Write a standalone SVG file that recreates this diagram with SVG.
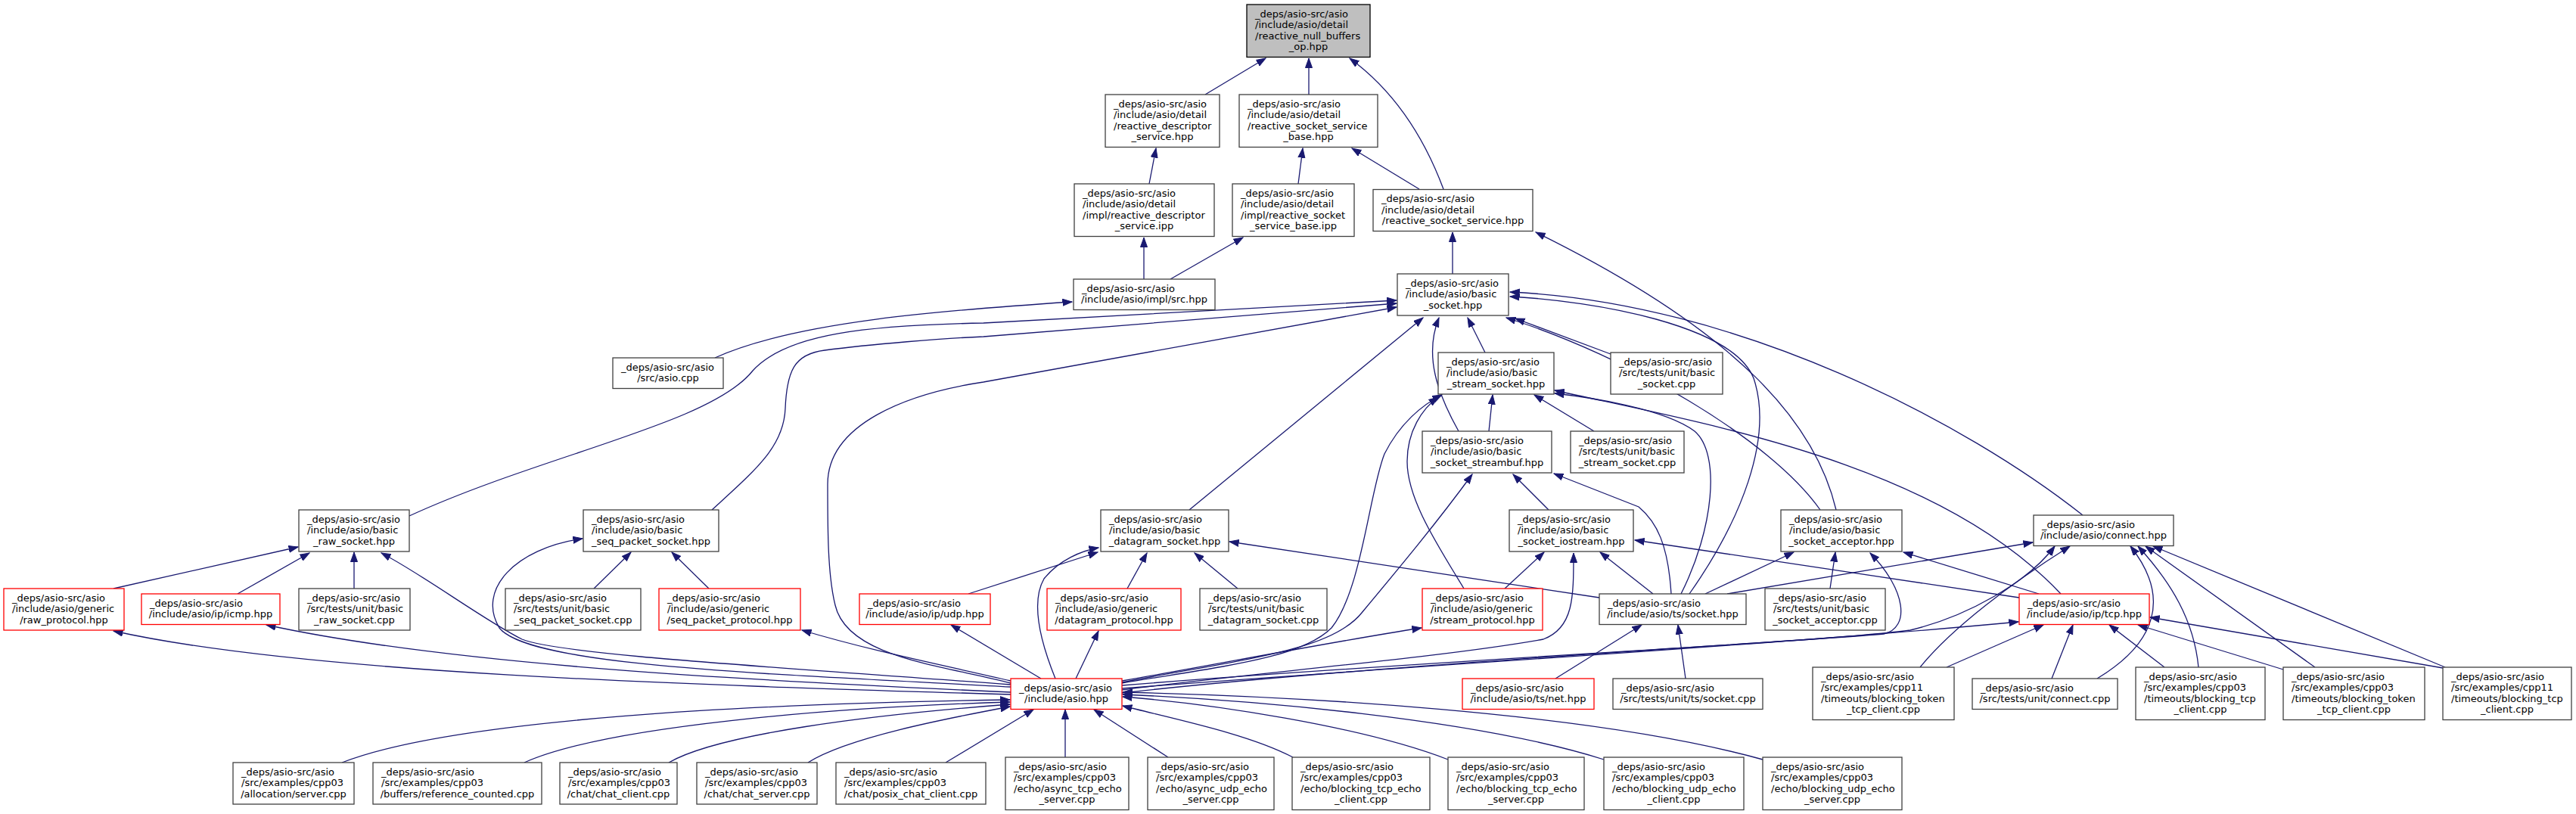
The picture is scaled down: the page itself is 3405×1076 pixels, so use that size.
<svg xmlns="http://www.w3.org/2000/svg" width="3405" height="1076" viewBox="0 0 3405 1076">
<style>
.node rect{fill:#fff;stroke:#404040;stroke-width:1.3}
.node.g rect{fill:#bfbfbf;stroke:#000}
.node.r rect{stroke:#f00}
.node text{font-family:"DejaVu Sans","Liberation Sans",sans-serif;font-size:13px;fill:#000}
.node text.c{text-anchor:middle}
.edges path{fill:none;stroke:#191970;stroke-width:1.3;marker-end:url(#ah)}
</style>
<defs>
<marker id="ah" markerUnits="userSpaceOnUse" markerWidth="14" markerHeight="11" refX="12.5" refY="5" orient="auto">
<path d="M0,0.5 L12.5,5 L0,9.5 z" fill="#191970" stroke="#191970" stroke-width="1"/>
</marker>
</defs>
<rect width="3405" height="1076" fill="#fff"/>
<g class="edges">
<path d="M1593,125 L1673,77"/>
<path d="M1730,125 L1730,77"/>
<path d="M1908,250 C1880,175 1840,118 1784,77"/>
<path d="M1519,243 L1528,196"/>
<path d="M1716,243 L1722,196"/>
<path d="M1876,250 L1787,196"/>
<path d="M1512,369 L1512,314"/>
<path d="M1547,369 L1643,314"/>
<path d="M1920,362 L1920,307"/>
<path d="M2427,674 C2400,560 2300,440 2030,307"/>
<path d="M945,473 C1050,425 1250,410 1417,399"/>
<path d="M541,682 C720,600 940,560 995,490 C1040,440 1150,430 1300,427 L1846,397"/>
<path d="M941,674 C1000,620 1036,590 1038,540 C1040,490 1050,468 1090,463 C1150,455 1250,447 1300,445 L1846,401"/>
<path d="M1336,903 C1250,880 1120,870 1104,800 C1094,760 1094,700 1094,640 C1094,560 1200,520 1300,505 L1846,406"/>
<path d="M1572,674 L1881,420"/>
<path d="M1928,570 C1900,520 1882,470 1902,420"/>
<path d="M1963,466 L1940,420"/>
<path d="M2406,674 C2340,580 2150,470 1991,420"/>
<path d="M2233,785 C2300,690 2345,580 2318,500 C2290,430 2110,398 1996,392"/>
<path d="M2129,468 L2003,421"/>
<path d="M2753,681 C2600,560 2300,400 1996,386"/>
<path d="M2107,570 L2028,522"/>
<path d="M1968,570 L1973,522"/>
<path d="M1483,903 C1620,880 1720,870 1760,830 C1800,780 1810,650 1830,600 C1850,560 1880,535 1906,522"/>
<path d="M1935,778 C1900,720 1860,660 1860,610 C1860,570 1880,540 1901,525"/>
<path d="M2047,674 L2000,627"/>
<path d="M1483,912 C1650,890 1900,870 2040,845 C2080,830 2080,790 2080,731"/>
<path d="M1989,778 L2041,730"/>
<path d="M2185,785 L2115,730"/>
<path d="M2669,790 L2161,714"/>
<path d="M2209,785 C2205,720 2190,690 2166,670 L2054,626"/>
<path d="M2254,785 L2371,730"/>
<path d="M2419,778 L2426,730"/>
<path d="M1483,916 C1800,880 2350,850 2490,838 C2525,830 2520,780 2472,731"/>
<path d="M2695,785 L2516,730"/>
<path d="M2283,785 L2687,717"/>
<path d="M2114,790 L1625,716"/>
<path d="M2056,897 L2170,826"/>
<path d="M2228,897 L2218,826"/>
<path d="M1483,906 C1900,872 2400,850 2525,833 C2600,815 2680,770 2716,722"/>
<path d="M1483,910 C1900,878 2350,852 2668,822"/>
<path d="M2538,882 C2580,830 2660,770 2736,722"/>
<path d="M2772,897 C2850,850 2870,790 2816,722"/>
<path d="M2906,882 C2900,820 2870,770 2826,722"/>
<path d="M3060,882 L2836,722"/>
<path d="M3232,882 L2846,722"/>
<path d="M2573,882 L2701,826"/>
<path d="M2712,897 L2740,826"/>
<path d="M2861,882 L2788,826"/>
<path d="M3018,885 L2826,826"/>
<path d="M3229,883 L2842,816"/>
<path d="M2724,785 C2560,610 2250,560 2055,516"/>
<path d="M2222,785 C2265,700 2275,600 2240,570 C2200,540 2100,525 2055,520"/>
<path d="M1280,785 L1451,730"/>
<path d="M1395,897 C1380,860 1360,800 1380,765 C1400,740 1430,728 1452,724"/>
<path d="M1490,778 L1516,731"/>
<path d="M1636,778 L1579,731"/>
<path d="M1422,897 L1452,834"/>
<path d="M1376,897 L1257,826"/>
<path d="M1336,905 C1000,880 740,865 690,845 C640,820 560,760 504,731"/>
<path d="M1336,908 C1000,890 700,880 660,830 C630,780 680,725 770,712"/>
<path d="M1336,900 C1250,880 1150,860 1060,833"/>
<path d="M1336,915 C1000,900 600,880 352,826"/>
<path d="M1336,918 C900,905 400,890 150,834"/>
<path d="M150,778 L394,723"/>
<path d="M314,785 L409,731"/>
<path d="M468,778 L468,730"/>
<path d="M785,778 L834,730"/>
<path d="M937,778 L888,730"/>
<path d="M1483,900 C1600,880 1750,850 1879,830"/>
<path d="M1483,902 C1650,870 1760,860 1800,810 C1850,750 1900,690 1946,627"/>
<path d="M452,1008 C600,950 1000,930 1335,925"/>
<path d="M693,1008 C800,960 1100,935 1335,928"/>
<path d="M884,1008 C950,970 1150,945 1335,931"/>
<path d="M1068,1008 C1120,975 1250,950 1335,934"/>
<path d="M1250,1008 L1366,938"/>
<path d="M1408,1001 L1408,938"/>
<path d="M1544,1001 L1446,938"/>
<path d="M1709,1001 C1650,970 1550,950 1484,933"/>
<path d="M1914,1004 C1800,960 1600,930 1484,921"/>
<path d="M2120,1004 C1950,950 1650,925 1484,918"/>
<path d="M2330,1004 C2100,940 1700,920 1484,915"/>
</g>
<g id="n-root" class="node g"><rect x="1648" y="6" width="163" height="69.5"/><text x="1659" y="22.8">_deps/asio-src/asio</text><text x="1659" y="37.3">/include/asio/detail</text><text x="1659" y="51.8">/reactive_null_buffers</text><text class="c" x="1729.5" y="66.3">_op.hpp</text></g>
<g id="n-rds" class="node"><rect x="1461" y="125" width="151" height="69.5"/><text x="1472" y="141.8">_deps/asio-src/asio</text><text x="1472" y="156.3">/include/asio/detail</text><text x="1472" y="170.8">/reactive_descriptor</text><text class="c" x="1536.5" y="185.3">_service.hpp</text></g>
<g id="n-rssb" class="node"><rect x="1638" y="125" width="183" height="69.5"/><text x="1649" y="141.8">_deps/asio-src/asio</text><text x="1649" y="156.3">/include/asio/detail</text><text x="1649" y="170.8">/reactive_socket_service</text><text class="c" x="1729.5" y="185.3">_base.hpp</text></g>
<g id="n-rds-ipp" class="node"><rect x="1420" y="243" width="185" height="69.5"/><text x="1431" y="259.8">_deps/asio-src/asio</text><text x="1431" y="274.3">/include/asio/detail</text><text x="1431" y="288.8">/impl/reactive_descriptor</text><text class="c" x="1512.5" y="303.3">_service.ipp</text></g>
<g id="n-rssb-ipp" class="node"><rect x="1629" y="243" width="161" height="69.5"/><text x="1640" y="259.8">_deps/asio-src/asio</text><text x="1640" y="274.3">/include/asio/detail</text><text x="1640" y="288.8">/impl/reactive_socket</text><text class="c" x="1709.5" y="303.3">_service_base.ipp</text></g>
<g id="n-rss" class="node"><rect x="1815" y="250.5" width="211" height="55"/><text x="1826" y="267.3">_deps/asio-src/asio</text><text x="1826" y="281.8">/include/asio/detail</text><text class="c" x="1920.5" y="296.3">/reactive_socket_service.hpp</text></g>
<g id="n-src" class="node"><rect x="1419" y="369" width="187" height="40.5"/><text x="1430" y="385.8">_deps/asio-src/asio</text><text class="c" x="1512.5" y="400.3">/include/asio/impl/src.hpp</text></g>
<g id="n-bs" class="node"><rect x="1847" y="362" width="147" height="55"/><text x="1858" y="378.8">_deps/asio-src/asio</text><text x="1858" y="393.3">/include/asio/basic</text><text class="c" x="1920.5" y="407.8">_socket.hpp</text></g>
<g id="n-asiocpp" class="node"><rect x="810" y="473" width="146" height="40.5"/><text x="821" y="489.8">_deps/asio-src/asio</text><text class="c" x="883" y="504.3">/src/asio.cpp</text></g>
<g id="n-bss" class="node"><rect x="1901" y="466" width="153" height="55"/><text x="1912" y="482.8">_deps/asio-src/asio</text><text x="1912" y="497.3">/include/asio/basic</text><text class="c" x="1977.5" y="511.8">_stream_socket.hpp</text></g>
<g id="n-tbs" class="node"><rect x="2129" y="466" width="148" height="55"/><text x="2140" y="482.8">_deps/asio-src/asio</text><text x="2140" y="497.3">/src/tests/unit/basic</text><text class="c" x="2203" y="511.8">_socket.cpp</text></g>
<g id="n-sb" class="node"><rect x="1880" y="570" width="171" height="55"/><text x="1891" y="586.8">_deps/asio-src/asio</text><text x="1891" y="601.3">/include/asio/basic</text><text class="c" x="1965.5" y="615.8">_socket_streambuf.hpp</text></g>
<g id="n-tbss" class="node"><rect x="2076" y="570" width="150" height="55"/><text x="2087" y="586.8">_deps/asio-src/asio</text><text x="2087" y="601.3">/src/tests/unit/basic</text><text class="c" x="2151" y="615.8">_stream_socket.cpp</text></g>
<g id="n-raw" class="node"><rect x="395" y="674" width="146" height="55"/><text x="406" y="690.8">_deps/asio-src/asio</text><text x="406" y="705.3">/include/asio/basic</text><text class="c" x="468" y="719.8">_raw_socket.hpp</text></g>
<g id="n-seq" class="node"><rect x="771" y="674" width="179" height="55"/><text x="782" y="690.8">_deps/asio-src/asio</text><text x="782" y="705.3">/include/asio/basic</text><text class="c" x="860.5" y="719.8">_seq_packet_socket.hpp</text></g>
<g id="n-dg" class="node"><rect x="1455" y="674" width="169" height="55"/><text x="1466" y="690.8">_deps/asio-src/asio</text><text x="1466" y="705.3">/include/asio/basic</text><text class="c" x="1539.5" y="719.8">_datagram_socket.hpp</text></g>
<g id="n-io" class="node"><rect x="1995" y="674" width="164" height="55"/><text x="2006" y="690.8">_deps/asio-src/asio</text><text x="2006" y="705.3">/include/asio/basic</text><text class="c" x="2077" y="719.8">_socket_iostream.hpp</text></g>
<g id="n-ac" class="node"><rect x="2354" y="674" width="160" height="55"/><text x="2365" y="690.8">_deps/asio-src/asio</text><text x="2365" y="705.3">/include/asio/basic</text><text class="c" x="2434" y="719.8">_socket_acceptor.hpp</text></g>
<g id="n-cn" class="node"><rect x="2688" y="681" width="185" height="40.5"/><text x="2699" y="697.8">_deps/asio-src/asio</text><text class="c" x="2780.5" y="712.3">/include/asio/connect.hpp</text></g>
<g id="n-rawp" class="node r"><rect x="5" y="778" width="159" height="55"/><text x="16" y="794.8">_deps/asio-src/asio</text><text x="16" y="809.3">/include/asio/generic</text><text class="c" x="84.5" y="823.8">/raw_protocol.hpp</text></g>
<g id="n-icmp" class="node r"><rect x="187" y="785" width="183" height="40.5"/><text x="198" y="801.8">_deps/asio-src/asio</text><text class="c" x="278.5" y="816.3">/include/asio/ip/icmp.hpp</text></g>
<g id="n-trs" class="node"><rect x="395" y="778" width="147" height="55"/><text x="406" y="794.8">_deps/asio-src/asio</text><text x="406" y="809.3">/src/tests/unit/basic</text><text class="c" x="468.5" y="823.8">_raw_socket.cpp</text></g>
<g id="n-tseq" class="node"><rect x="668" y="778" width="179" height="55"/><text x="679" y="794.8">_deps/asio-src/asio</text><text x="679" y="809.3">/src/tests/unit/basic</text><text class="c" x="757.5" y="823.8">_seq_packet_socket.cpp</text></g>
<g id="n-seqp" class="node r"><rect x="871" y="778" width="187" height="55"/><text x="882" y="794.8">_deps/asio-src/asio</text><text x="882" y="809.3">/include/asio/generic</text><text class="c" x="964.5" y="823.8">/seq_packet_protocol.hpp</text></g>
<g id="n-udp" class="node r"><rect x="1136" y="785" width="173" height="40.5"/><text x="1147" y="801.8">_deps/asio-src/asio</text><text class="c" x="1222.5" y="816.3">/include/asio/ip/udp.hpp</text></g>
<g id="n-dgp" class="node r"><rect x="1384" y="778" width="177" height="55"/><text x="1395" y="794.8">_deps/asio-src/asio</text><text x="1395" y="809.3">/include/asio/generic</text><text class="c" x="1472.5" y="823.8">/datagram_protocol.hpp</text></g>
<g id="n-tdg" class="node"><rect x="1586" y="778" width="168" height="55"/><text x="1597" y="794.8">_deps/asio-src/asio</text><text x="1597" y="809.3">/src/tests/unit/basic</text><text class="c" x="1670" y="823.8">_datagram_socket.cpp</text></g>
<g id="n-sp" class="node r"><rect x="1880" y="778" width="159" height="55"/><text x="1891" y="794.8">_deps/asio-src/asio</text><text x="1891" y="809.3">/include/asio/generic</text><text class="c" x="1959.5" y="823.8">/stream_protocol.hpp</text></g>
<g id="n-ts" class="node"><rect x="2114" y="785" width="194" height="40.5"/><text x="2125" y="801.8">_deps/asio-src/asio</text><text class="c" x="2211" y="816.3">/include/asio/ts/socket.hpp</text></g>
<g id="n-tac" class="node"><rect x="2333" y="778" width="159" height="55"/><text x="2344" y="794.8">_deps/asio-src/asio</text><text x="2344" y="809.3">/src/tests/unit/basic</text><text class="c" x="2412.5" y="823.8">_socket_acceptor.cpp</text></g>
<g id="n-tcp" class="node r"><rect x="2669" y="785" width="172" height="40.5"/><text x="2680" y="801.8">_deps/asio-src/asio</text><text class="c" x="2755" y="816.3">/include/asio/ip/tcp.hpp</text></g>
<g id="n-asio" class="node r"><rect x="1336" y="897" width="147" height="40.5"/><text x="1347" y="913.8">_deps/asio-src/asio</text><text class="c" x="1409.5" y="928.3">/include/asio.hpp</text></g>
<g id="n-net" class="node r"><rect x="1933" y="897" width="174" height="40.5"/><text x="1944" y="913.8">_deps/asio-src/asio</text><text class="c" x="2020" y="928.3">/include/asio/ts/net.hpp</text></g>
<g id="n-tts" class="node"><rect x="2132" y="897" width="198" height="40.5"/><text x="2143" y="913.8">_deps/asio-src/asio</text><text class="c" x="2231" y="928.3">/src/tests/unit/ts/socket.cpp</text></g>
<g id="n-c11tok" class="node"><rect x="2396" y="882" width="187" height="69.5"/><text x="2407" y="898.8">_deps/asio-src/asio</text><text x="2407" y="913.3">/src/examples/cpp11</text><text x="2407" y="927.8">/timeouts/blocking_token</text><text class="c" x="2489.5" y="942.3">_tcp_client.cpp</text></g>
<g id="n-tcn" class="node"><rect x="2607" y="897" width="192" height="40.5"/><text x="2618" y="913.8">_deps/asio-src/asio</text><text class="c" x="2703" y="928.3">/src/tests/unit/connect.cpp</text></g>
<g id="n-c03tcp" class="node"><rect x="2823" y="882" width="171" height="69.5"/><text x="2834" y="898.8">_deps/asio-src/asio</text><text x="2834" y="913.3">/src/examples/cpp03</text><text x="2834" y="927.8">/timeouts/blocking_tcp</text><text class="c" x="2908.5" y="942.3">_client.cpp</text></g>
<g id="n-c03tok" class="node"><rect x="3018" y="882" width="187" height="69.5"/><text x="3029" y="898.8">_deps/asio-src/asio</text><text x="3029" y="913.3">/src/examples/cpp03</text><text x="3029" y="927.8">/timeouts/blocking_token</text><text class="c" x="3111.5" y="942.3">_tcp_client.cpp</text></g>
<g id="n-c11tcp" class="node"><rect x="3229" y="882" width="170" height="69.5"/><text x="3240" y="898.8">_deps/asio-src/asio</text><text x="3240" y="913.3">/src/examples/cpp11</text><text x="3240" y="927.8">/timeouts/blocking_tcp</text><text class="c" x="3314" y="942.3">_client.cpp</text></g>
<g id="n-b1" class="node"><rect x="308" y="1008" width="160" height="55"/><text x="319" y="1024.8">_deps/asio-src/asio</text><text x="319" y="1039.3">/src/examples/cpp03</text><text class="c" x="388" y="1053.8">/allocation/server.cpp</text></g>
<g id="n-b2" class="node"><rect x="493" y="1008" width="223" height="55"/><text x="504" y="1024.8">_deps/asio-src/asio</text><text x="504" y="1039.3">/src/examples/cpp03</text><text class="c" x="604.5" y="1053.8">/buffers/reference_counted.cpp</text></g>
<g id="n-b3" class="node"><rect x="740" y="1008" width="155" height="55"/><text x="751" y="1024.8">_deps/asio-src/asio</text><text x="751" y="1039.3">/src/examples/cpp03</text><text class="c" x="817.5" y="1053.8">/chat/chat_client.cpp</text></g>
<g id="n-b4" class="node"><rect x="921" y="1008" width="159" height="55"/><text x="932" y="1024.8">_deps/asio-src/asio</text><text x="932" y="1039.3">/src/examples/cpp03</text><text class="c" x="1000.5" y="1053.8">/chat/chat_server.cpp</text></g>
<g id="n-b5" class="node"><rect x="1105" y="1008" width="198" height="55"/><text x="1116" y="1024.8">_deps/asio-src/asio</text><text x="1116" y="1039.3">/src/examples/cpp03</text><text class="c" x="1204" y="1053.8">/chat/posix_chat_client.cpp</text></g>
<g id="n-b6" class="node"><rect x="1329" y="1001" width="163" height="69.5"/><text x="1340" y="1017.8">_deps/asio-src/asio</text><text x="1340" y="1032.3">/src/examples/cpp03</text><text x="1340" y="1046.8">/echo/async_tcp_echo</text><text class="c" x="1410.5" y="1061.3">_server.cpp</text></g>
<g id="n-b7" class="node"><rect x="1517" y="1001" width="167" height="69.5"/><text x="1528" y="1017.8">_deps/asio-src/asio</text><text x="1528" y="1032.3">/src/examples/cpp03</text><text x="1528" y="1046.8">/echo/async_udp_echo</text><text class="c" x="1600.5" y="1061.3">_server.cpp</text></g>
<g id="n-b8" class="node"><rect x="1708" y="1001" width="182" height="69.5"/><text x="1719" y="1017.8">_deps/asio-src/asio</text><text x="1719" y="1032.3">/src/examples/cpp03</text><text x="1719" y="1046.8">/echo/blocking_tcp_echo</text><text class="c" x="1799" y="1061.3">_client.cpp</text></g>
<g id="n-b9" class="node"><rect x="1914" y="1001" width="180" height="69.5"/><text x="1925" y="1017.8">_deps/asio-src/asio</text><text x="1925" y="1032.3">/src/examples/cpp03</text><text x="1925" y="1046.8">/echo/blocking_tcp_echo</text><text class="c" x="2004" y="1061.3">_server.cpp</text></g>
<g id="n-b10" class="node"><rect x="2120" y="1001" width="185" height="69.5"/><text x="2131" y="1017.8">_deps/asio-src/asio</text><text x="2131" y="1032.3">/src/examples/cpp03</text><text x="2131" y="1046.8">/echo/blocking_udp_echo</text><text class="c" x="2212.5" y="1061.3">_client.cpp</text></g>
<g id="n-b11" class="node"><rect x="2330" y="1001" width="184" height="69.5"/><text x="2341" y="1017.8">_deps/asio-src/asio</text><text x="2341" y="1032.3">/src/examples/cpp03</text><text x="2341" y="1046.8">/echo/blocking_udp_echo</text><text class="c" x="2422" y="1061.3">_server.cpp</text></g>
</svg>
